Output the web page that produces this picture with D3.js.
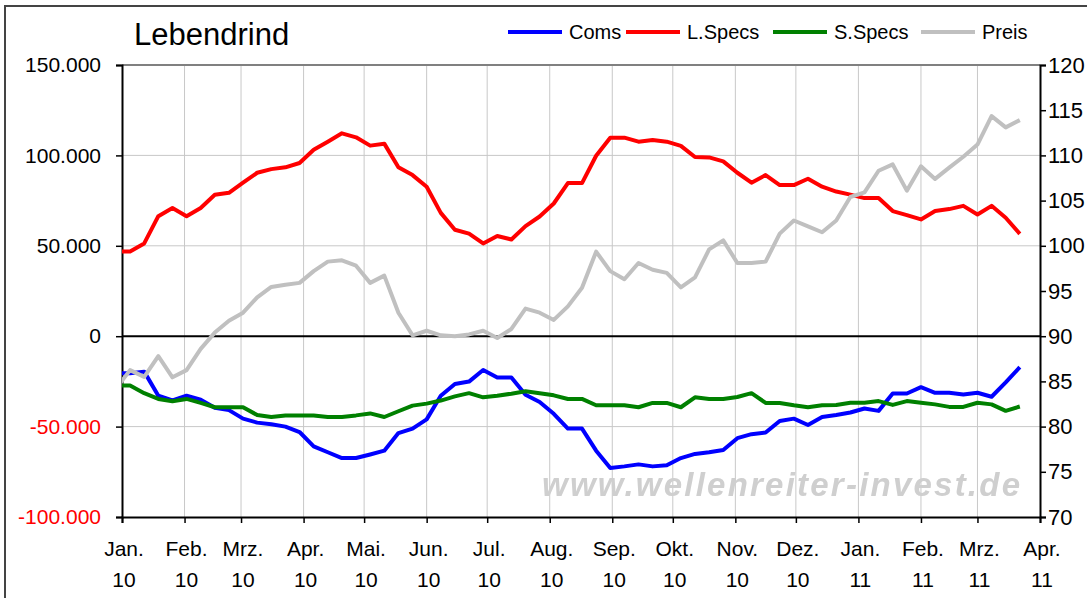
<!DOCTYPE html>
<html>
<head>
<meta charset="utf-8">
<script src="https://cdn.jsdelivr.net/npm/d3@7"></script>
<style>
  body { margin: 0; background: #fff; }
  text { font-family: "Liberation Sans", Arial, sans-serif; }
</style>
</head>
<body>
<div id="chart-area"></div>
<script>
/* Lebendrind - COT positions vs. price, weekly */

// weekly report dates (Tuesdays), 29.12.2009 .. 22.03.2011
const weeks = d3.timeTuesday.range(new Date(2009, 11, 29), new Date(2011, 2, 23))

const coms = [-20500, -20500, -19600, -32900, -35500, -32900, -35100, -39600, -40900, -45600, -47800, -48700, -50000,
	-53000, -60900, -64200, -67400, -67400, -65400, -63300, -53600, -51100, -46000, -32900, -26400, -25100,
	-18700, -22900, -22900, -32400, -36400, -42900, -51100, -51100, -63300, -72900, -72000, -70900, -72000,
	-71400, -67400, -65100, -64200, -62900, -56400, -54200, -53300, -46900, -45600, -49100, -44700, -43600,
	-42200, -40000, -41300, -31700, -31700, -28200, -31300, -31300, -32200, -31300, -33500, -25500, -17100]

const lSpecs = [46900, 46900, 51300, 66400, 70900, 66400, 70900, 78200, 79300, 84900, 90400, 92400, 93400,
	95800, 103100, 107600, 112200, 110000, 105400, 106500, 93400, 89100, 82700, 68200, 58900, 56700,
	51300, 55400, 53500, 60900, 66200, 73400, 84700, 84700, 99800, 109800, 109800, 107600, 108500,
	107600, 105300, 99100, 98900, 96700, 90400, 84900, 89100, 83600, 83600, 87100, 82700, 80000,
	78300, 76400, 76400, 69200, 67000, 64600, 69200, 70300, 72100, 67300, 72100, 65500, 56600]

const sSpecs = [-27300, -27300, -31500, -34700, -36000, -34700, -36900, -39300, -39300, -39300, -43600, -44700, -43800,
	-43800, -43800, -44700, -44700, -43800, -42700, -44700, -41500, -38400, -37300, -35600, -33300, -31500,
	-33800, -32900, -31800, -30500, -31500, -32700, -34700, -34700, -38200, -38200, -38200, -39300, -36900,
	-36900, -39300, -33800, -34700, -34700, -33600, -31500, -36900, -36900, -38200, -39300, -38200, -38000,
	-36800, -36800, -35900, -38000, -35900, -36800, -37700, -39100, -39100, -36800, -37700, -41300, -38900]

const preis = [84.2, 86.25, 85.5, 87.8, 85.45, 86.25, 88.6, 90.4, 91.7, 92.6, 94.3, 95.45, 95.7,
	95.9, 97.2, 98.25, 98.4, 97.8, 95.9, 96.7, 92.6, 90.1, 90.6, 90.1, 90.0, 90.2,
	90.6, 89.8, 90.8, 93.05, 92.6, 91.8, 93.3, 95.35, 99.35, 97.2, 96.3, 98.1, 97.35,
	97.0, 95.4, 96.5, 99.6, 100.6, 98.1, 98.1, 98.25, 101.35, 102.8, 102.15, 101.5, 102.8,
	105.4, 105.9, 108.3, 109.0, 106.1, 108.8, 107.4, 108.65, 109.85, 111.2, 114.35, 113.1, 113.9]

const monthNames = ['Jan.', 'Feb.', 'Mrz.', 'Apr.', 'Mai.', 'Jun.', 'Jul.', 'Aug.', 'Sep.', 'Okt.', 'Nov.', 'Dez.']
const leftTicks = [-100000, -50000, 0, 50000, 100000, 150000]
const rightTicks = [70, 75, 80, 85, 90, 95, 100, 105, 110, 115, 120]

const series = [
	{ name: 'Coms', values: coms, color: '#0000ff', axis: 'left' },
	{ name: 'L.Specs', values: lSpecs, color: '#ff0000', axis: 'left' },
	{ name: 'S.Specs', values: sSpecs, color: '#008000', axis: 'left' },
	{ name: 'Preis', values: preis, color: '#c0c0c0', axis: 'right' }
]

/* Canvas */
const CANVAS_WIDTH = 1087
const CANVAS_HEIGHT = 598
const plot = { left: 122, right: 1040, top: 65, bottom: 517 }

const $svg = d3.select('#chart-area')
	.append('svg')
	.attr('width', CANVAS_WIDTH)
	.attr('height', CANVAS_HEIGHT)

$svg.append('defs')
	.append('filter')
	.attr('id', 'soft')
	.append('feGaussianBlur')
	.attr('stdDeviation', 0.7)

// outer frame
$svg.append('rect')
	.attr('x', 5).attr('y', 6)
	.attr('width', 1100).attr('height', 620)
	.attr('fill', 'none')
	.attr('stroke', '#444')
	.attr('stroke-width', 2)

/* Scales */
const xScale = d3.scaleTime()
	.domain([new Date(2010, 0, 1), new Date(2011, 3, 1)])
	.range([plot.left, plot.right])

const yLeft = d3.scaleLinear()
	.domain([-100000, 150000])
	.range([plot.bottom, plot.top])

const yRight = d3.scaleLinear()
	.domain([70, 120])
	.range([plot.bottom, plot.top])

const de = d3.formatLocale({ decimal: ',', thousands: '.', grouping: [3], currency: ['', ' €'], minus: '-' })
const fmt = de.format(',d')

/* Grid */
const months = d3.timeMonth.range(new Date(2010, 0, 1), new Date(2011, 3, 2))

$svg.append('g')
	.selectAll('line')
	.data(months.slice(1, -1))
	.enter()
	.append('line')
	.attr('x1', d => xScale(d)).attr('x2', d => xScale(d))
	.attr('y1', plot.top).attr('y2', plot.bottom)
	.attr('stroke', '#c8c8c8')
	.attr('stroke-width', 1)

$svg.append('g')
	.selectAll('line')
	.data(leftTicks.filter(d => d !== 0 && d !== 150000 && d !== -100000))
	.enter()
	.append('line')
	.attr('x1', plot.left).attr('x2', plot.right)
	.attr('y1', d => yLeft(d)).attr('y2', d => yLeft(d))
	.attr('stroke', '#c8c8c8')
	.attr('stroke-width', 1)

// top border of the plot
$svg.append('line')
	.attr('x1', plot.left).attr('x2', plot.right)
	.attr('y1', plot.top).attr('y2', plot.top)
	.attr('stroke', '#808080')
	.attr('stroke-width', 2)

/* Watermark */
$svg.append('text')
	.attr('x', 1020)
	.attr('y', 496)
	.attr('text-anchor', 'end')
	.attr('font-size', 33)
	.attr('font-style', 'italic')
	.attr('font-weight', 'bold')
	.attr('fill', '#cfcfcf')
	.attr('filter', 'url(#soft)')
	.attr('textLength', 478)
	.attr('lengthAdjust', 'spacing')
	.text('www.wellenreiter-invest.de')

/* Axes */
const xAxisCall = d3.axisBottom(xScale)
	.tickValues(months)
	.tickSize(6)
	.tickFormat('')

const $xAxisGroup = $svg.append('g')
	.attr('transform', `translate(0, ${plot.bottom})`)
	.call(xAxisCall)

const yLeftCall = d3.axisLeft(yLeft)
	.tickValues(leftTicks)
	.tickSize(6)
	.tickPadding(15)
	.tickFormat(fmt)

const $yLeftGroup = $svg.append('g')
	.attr('transform', `translate(${plot.left}, 0)`)
	.call(yLeftCall)

const yRightCall = d3.axisRight(yRight)
	.tickValues(rightTicks)
	.tickSize(6)
	.tickPadding(2)

const $yRightGroup = $svg.append('g')
	.attr('transform', `translate(${plot.right}, 0)`)
	.call(yRightCall)

;[$xAxisGroup, $yLeftGroup, $yRightGroup].forEach($g => {
	$g.select('.domain').attr('stroke', '#000').attr('stroke-width', 2)
	$g.selectAll('.tick line').attr('stroke', '#000').attr('stroke-width', 1.5)
	$g.selectAll('.tick text')
		.attr('font-family', '"Liberation Sans", Arial, sans-serif')
		.attr('font-size', 21)
		.attr('fill', '#000')
})

$yRightGroup.selectAll('.tick text').attr('font-size', 22)
$yLeftGroup.selectAll('.tick text')
	.attr('fill', d => d < 0 ? '#ff0000' : '#000')

// month labels in two lines
const $monthLabels = $svg.append('g')
$monthLabels.selectAll('text')
	.data(months)
	.enter()
	.append('text')
	.attr('x', d => xScale(d) + 2)
	.attr('y', 556)
	.attr('text-anchor', 'middle')
	.attr('font-size', 21)
	.each(function(d) {
		d3.select(this).append('tspan')
			.attr('x', xScale(d) + 2)
			.text(monthNames[d.getMonth()])
		d3.select(this).append('tspan')
			.attr('x', xScale(d) + 2)
			.attr('dy', 31)
			.text(String(d.getFullYear()).slice(2))
	})

/* Zero line */
$svg.append('line')
	.attr('x1', plot.left).attr('x2', plot.right)
	.attr('y1', yLeft(0)).attr('y2', yLeft(0))
	.attr('stroke', '#000')
	.attr('stroke-width', 2)

/* Lines */
$svg.append('clipPath')
	.attr('id', 'plot-clip')
	.append('rect')
	.attr('x', plot.left).attr('y', plot.top)
	.attr('width', plot.right - plot.left)
	.attr('height', plot.bottom - plot.top)

const $lines = $svg.append('g').attr('clip-path', 'url(#plot-clip)')

series.forEach(s => {
	const yScale = s.axis === 'left' ? yLeft : yRight
	const line = d3.line()
		.x((d, i) => xScale(weeks[i]))
		.y(d => yScale(d))
	$lines.append('path')
		.datum(s.values)
		.attr('d', line)
		.attr('fill', 'none')
		.attr('stroke', s.color)
		.attr('stroke-width', 4)
		.attr('stroke-linejoin', 'round')
})

/* Title */
$svg.append('text')
	.attr('x', 134)
	.attr('y', 45)
	.attr('font-size', 31)
	.text('Lebendrind')

/* Legend */
const legendX = [508, 626, 773, 921]
const $legend = $svg.append('g')
	.attr('transform', 'translate(0, 32)')

$legend.selectAll('line')
	.data(series)
	.enter()
	.append('line')
	.attr('x1', (d, i) => legendX[i])
	.attr('x2', (d, i) => legendX[i] + 54)
	.attr('y1', 0).attr('y2', 0)
	.attr('stroke', d => d.color)
	.attr('stroke-width', 4)

$legend.selectAll('text')
	.data(series)
	.enter()
	.append('text')
	.attr('x', (d, i) => legendX[i] + 61)
	.attr('y', 0)
	.attr('dy', '0.36em')
	.attr('font-size', 20)
	.text(d => d.name)
</script>
</body>
</html>
